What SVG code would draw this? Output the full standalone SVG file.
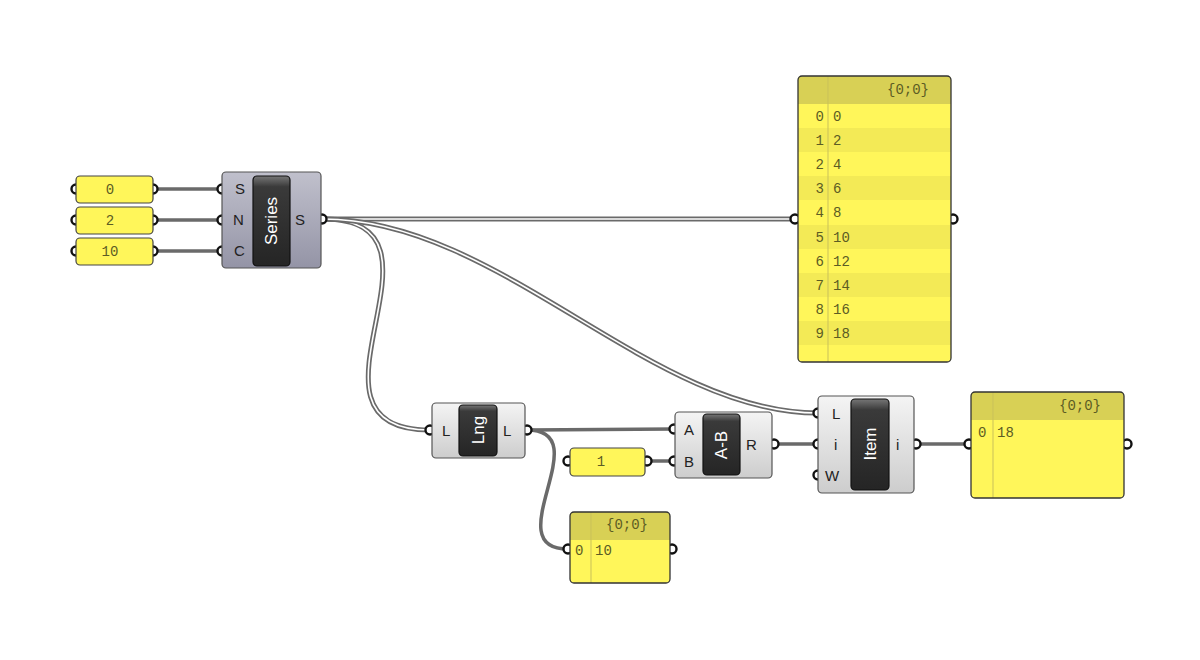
<svg xmlns="http://www.w3.org/2000/svg" width="1200" height="660" viewBox="0 0 1200 660">
<defs>
<linearGradient id="gLight" x1="0" y1="0" x2="0" y2="1"><stop offset="0" stop-color="#f4f4f4"/><stop offset="1" stop-color="#cdcdcd"/></linearGradient>
<linearGradient id="gBlue" x1="0" y1="0" x2="0" y2="1"><stop offset="0" stop-color="#c0c0cc"/><stop offset="1" stop-color="#9494a6"/></linearGradient>
<linearGradient id="gDark" x1="0" y1="0" x2="0" y2="1"><stop offset="0" stop-color="#777"/><stop offset="0.12" stop-color="#3a3a3a"/><stop offset="1" stop-color="#252525"/></linearGradient>
<style>
.wire{fill:none;stroke:#6a6a6a;stroke-width:3.5}
.dbl{fill:none;stroke:#6a6a6a;stroke-width:5}
.dblin{fill:none;stroke:#fff;stroke-width:1.6}
.grip{fill:#fff;stroke:#111;stroke-width:2.4}
.body{fill:url(#gLight);stroke:#555;stroke-width:1.2}
.bodyB{fill:url(#gBlue);stroke:#555;stroke-width:1.2}
.inner{fill:url(#gDark);stroke:#111;stroke-width:1.2}
.lbl{font-family:"Liberation Sans",Arial,sans-serif;font-size:15px;fill:#222}
.title{font-family:"Liberation Sans",Arial,sans-serif;font-size:17px;fill:#fff;text-anchor:middle;dominant-baseline:central}
.slider{fill:#fff65a;stroke:#444;stroke-width:1.2}
.mono{font-family:"Liberation Mono","DejaVu Sans Mono",monospace;font-size:14px;fill:#5c5c24}
.hdr{fill:#d8d055}
.rowA{fill:#fff65a}
.rowB{fill:#f3ea56}
.pframe{fill:none;stroke:#333;stroke-width:1.3}
.col{stroke:#c9c15a;stroke-width:1}
</style>
</defs>
<rect width="1200" height="660" fill="#fff"/>

<g id="connectors">
<path class="wire" d="M153,189 L222,189"/>
<path class="wire" d="M153,220 L222,220"/>
<path class="wire" d="M153,251 L222,251"/>
<path class="dbl" d="M323,219 L795,219"/>
<path class="dblin" d="M323,219 L795,219"/>
<path class="dbl" d="M323,219 C470,219 280,430 430,430"/>
<path class="dblin" d="M323,219 C470,219 280,430 430,430"/>
<path class="dbl" d="M323,219 C500,219 650,413 818,413"/>
<path class="dblin" d="M323,219 C500,219 650,413 818,413"/>
<path class="wire" d="M527,430 L674,429"/>
<path class="wire" d="M527,430 C600,430 495,549 568,549"/>
<path class="wire" d="M647,461 L674,461"/>
<path class="wire" d="M774,444 L818,444"/>
<path class="wire" d="M916,444 L969,444"/>
</g>

<g id="slider0">
<circle class="grip" cx="76" cy="189" r="4.5"/><circle class="grip" cx="153" cy="189" r="4.5"/>
<rect class="slider" x="76" y="176" width="77" height="27" rx="4"/>
<text class="mono" x="110" y="194" text-anchor="middle">0</text>
</g>
<g id="slider2">
<circle class="grip" cx="76" cy="220" r="4.5"/><circle class="grip" cx="153" cy="220" r="4.5"/>
<rect class="slider" x="76" y="207" width="77" height="27" rx="4"/>
<text class="mono" x="110" y="225" text-anchor="middle">2</text>
</g>
<g id="slider10">
<circle class="grip" cx="76" cy="251" r="4.5"/><circle class="grip" cx="153" cy="251" r="4.5"/>
<rect class="slider" x="76" y="238" width="77" height="27" rx="4"/>
<text class="mono" x="110" y="256" text-anchor="middle">10</text>
</g>

<g id="series">
<circle class="grip" cx="222" cy="189" r="4.5"/><circle class="grip" cx="222" cy="220" r="4.5"/><circle class="grip" cx="222" cy="251" r="4.5"/><circle class="grip" cx="322" cy="219" r="4.5"/>
<rect class="bodyB" x="222" y="172" width="99" height="96" rx="4"/>
<rect class="inner" x="253" y="176" width="37" height="90" rx="4"/>
<text class="title" transform="translate(271.5,221) rotate(-90)">Series</text>
<text class="lbl" x="235" y="194">S</text>
<text class="lbl" x="233" y="225">N</text>
<text class="lbl" x="234" y="256">C</text>
<text class="lbl" x="295" y="225">S</text>
</g>

<g id="panelList">
<circle class="grip" cx="795" cy="219" r="4.5"/><circle class="grip" cx="953" cy="219" r="4.5"/>
<rect x="798" y="76" width="153" height="286" rx="4" fill="#fff65a"/>
<path class="hdr" d="M802,76 H947 Q951,76 951,80 V104 H798 V80 Q798,76 802,76 Z"/>
<rect class="rowB" x="798" y="128" width="153" height="24"/>
<rect class="rowB" x="798" y="176" width="153" height="24"/>
<rect class="rowB" x="798" y="225" width="153" height="24"/>
<rect class="rowB" x="798" y="273" width="153" height="24"/>
<rect class="rowB" x="798" y="321" width="153" height="24"/>
<line class="col" x1="828" y1="76" x2="828" y2="362"/>
<rect class="pframe" x="798" y="76" width="153" height="286" rx="4"/>
<text class="mono" x="908" y="94" text-anchor="middle">{0;0}</text>
<g class="mono" text-anchor="end">
<text x="824" y="121">0</text><text x="824" y="145">1</text><text x="824" y="169">2</text><text x="824" y="193">3</text><text x="824" y="217">4</text>
<text x="824" y="242">5</text><text x="824" y="266">6</text><text x="824" y="290">7</text><text x="824" y="314">8</text><text x="824" y="338">9</text>
</g>
<g class="mono">
<text x="833" y="121">0</text><text x="833" y="145">2</text><text x="833" y="169">4</text><text x="833" y="193">6</text><text x="833" y="217">8</text>
<text x="833" y="242">10</text><text x="833" y="266">12</text><text x="833" y="290">14</text><text x="833" y="314">16</text><text x="833" y="338">18</text>
</g>
</g>

<g id="lng">
<circle class="grip" cx="430" cy="430" r="4.5"/><circle class="grip" cx="527" cy="430" r="4.5"/>
<rect class="body" x="432" y="403" width="93" height="55" rx="4"/>
<rect class="inner" x="459" y="405" width="38" height="51" rx="4"/>
<text class="title" transform="translate(478,430) rotate(-90)">Lng</text>
<text class="lbl" x="442" y="436">L</text>
<text class="lbl" x="503" y="436">L</text>
</g>

<g id="slider1">
<circle class="grip" cx="568" cy="461" r="4.5"/><circle class="grip" cx="647" cy="461" r="4.5"/>
<rect class="slider" x="570" y="448" width="75" height="28" rx="4"/>
<text class="mono" x="601" y="466" text-anchor="middle">1</text>
</g>

<g id="amb">
<circle class="grip" cx="674" cy="429" r="4.5"/><circle class="grip" cx="674" cy="461" r="4.5"/><circle class="grip" cx="774" cy="444" r="4.5"/>
<rect class="body" x="675" y="412" width="97" height="66" rx="4"/>
<rect class="inner" x="703" y="414" width="37" height="61" rx="4"/>
<text class="title" transform="translate(721.5,445) rotate(-90)">A-B</text>
<text class="lbl" x="684" y="435">A</text>
<text class="lbl" x="684" y="467">B</text>
<text class="lbl" x="746" y="450">R</text>
</g>

<g id="item">
<circle class="grip" cx="818" cy="413" r="4.5"/><circle class="grip" cx="818" cy="444" r="4.5"/><circle class="grip" cx="818" cy="475" r="4.5"/><circle class="grip" cx="916" cy="444" r="4.5"/>
<rect class="body" x="818" y="396" width="96" height="97" rx="4"/>
<rect class="inner" x="851" y="399" width="38" height="91" rx="4"/>
<text class="title" transform="translate(870,444) rotate(-90)">Item</text>
<text class="lbl" x="832" y="419">L</text>
<text class="lbl" x="834" y="450">i</text>
<text class="lbl" x="825" y="481">W</text>
<text class="lbl" x="896" y="450">i</text>
</g>

<g id="panelItem">
<circle class="grip" cx="969" cy="444" r="4.5"/><circle class="grip" cx="1127" cy="444" r="4.5"/>
<rect x="971" y="392" width="153" height="106" rx="4" fill="#fff65a"/>
<path class="hdr" d="M975,392 H1120 Q1124,392 1124,396 V420 H971 V396 Q971,392 975,392 Z"/>
<line class="col" x1="993" y1="392" x2="993" y2="498"/>
<rect class="pframe" x="971" y="392" width="153" height="106" rx="4"/>
<text class="mono" x="1080" y="410" text-anchor="middle">{0;0}</text>
<text class="mono" x="978" y="437">0</text>
<text class="mono" x="997" y="437">18</text>
</g>

<g id="panelLen">
<circle class="grip" cx="568" cy="549" r="4.5"/><circle class="grip" cx="672" cy="549" r="4.5"/>
<rect x="570" y="512" width="100" height="71" rx="4" fill="#fff65a"/>
<path class="hdr" d="M574,512 H666 Q670,512 670,516 V540 H570 V516 Q570,512 574,512 Z"/>
<line class="col" x1="591" y1="512" x2="591" y2="583"/>
<rect class="pframe" x="570" y="512" width="100" height="71" rx="4"/>
<text class="mono" x="627" y="529" text-anchor="middle">{0;0}</text>
<text class="mono" x="575" y="555">0</text>
<text class="mono" x="595" y="555">10</text>
</g>
</svg>
